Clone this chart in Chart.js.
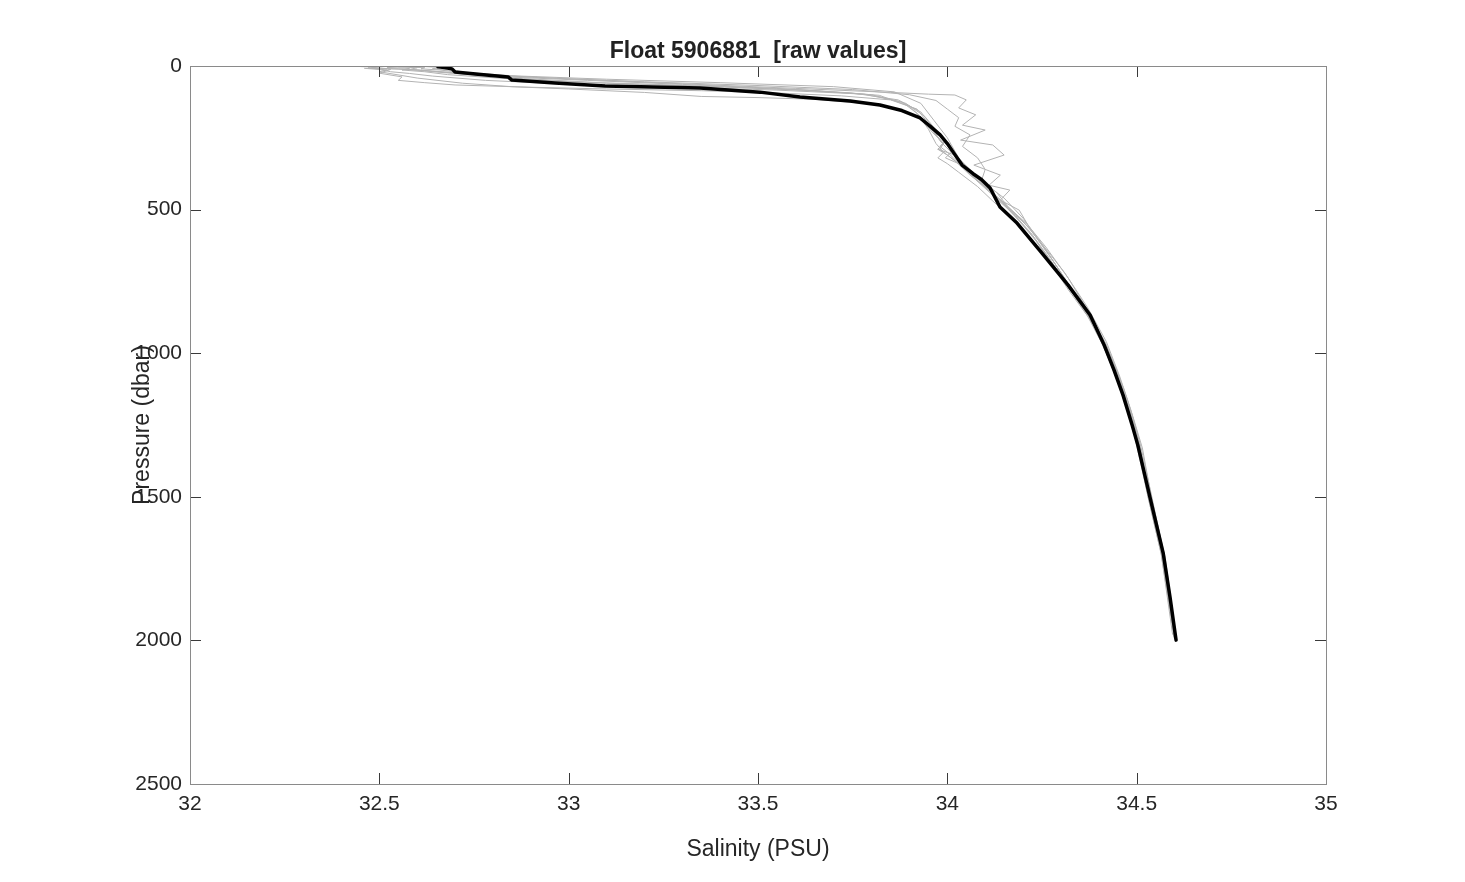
<!DOCTYPE html>
<html>
<head>
<meta charset="utf-8">
<script src="https://cdn.jsdelivr.net/npm/chart.js@4.4.1/dist/chart.umd.min.js"></script>
<style>
  html, body { margin: 0; padding: 0; background: #ffffff; }
  canvas { display: block; }
</style>
</head>
<body>
<canvas id="c" width="1465" height="882"></canvas>
<script>
// ---- Data (salinity in PSU, pressure in dbar) ----
const chartTitle = 'Float 5906881  [raw values]';
const xLabel = 'Salinity (PSU)';
const yLabel = 'Pressure (dbar)';
const xTicks = [32, 32.5, 33, 33.5, 34, 34.5, 35];
const yTicks = [0, 500, 1000, 1500, 2000, 2500];

// Highlighted profile (thick black)
const salBlack  = [32.655,32.672,32.692,32.700,32.761,32.840,32.850,32.964,33.096,33.347,33.505,33.611,33.743,33.822,33.880,33.928,33.955,33.981,34.000,34.015,34.039,34.068,34.090,34.113,34.139,34.184,34.245,34.319,34.377,34.414,34.440,34.464,34.488,34.503,34.535,34.570,34.588,34.604];
const presBlack = [3,5,10,21,29,38,49,59,70,77,91,108,122,136,155,181,210,240,270,299,345,375,395,425,491,547,644,763,867,971,1058,1146,1250,1320,1501,1696,1849,1999];

// Other profiles (thin grey)
const salG1  = [32.45,32.49,32.47,32.55,32.60,32.66,32.80,33.05,33.30,33.55,33.75,33.87,33.93,33.96,33.98,34.01,33.995,34.03,34.05,34.09,34.14,34.19,34.235,34.29,34.345,34.395,34.435,34.465,34.49,34.515,34.54,34.575,34.605];
const presG1 = [2,4,8,10,14,22,36,50,64,78,94,118,160,210,260,300,320,340,360,410,470,540,610,710,810,910,1020,1120,1220,1330,1510,1710,1995];

const salG2  = [32.52,32.58,32.56,32.62,32.68,32.86,33.10,33.40,33.65,33.82,33.90,33.94,33.97,33.99,33.975,34.00,34.03,34.07,34.12,34.17,34.22,34.27,34.325,34.38,34.42,34.455,34.48,34.505,34.535,34.57,34.60];
const presG2 = [5,8,14,20,30,46,60,72,86,102,140,190,240,270,290,310,340,390,450,510,580,670,780,880,980,1090,1200,1310,1500,1700,1990];

const salG3  = [32.48,32.52,32.60,32.75,33.00,33.30,33.60,33.85,33.95,34.02,34.05,34.03,34.075,34.04,34.10,34.035,34.12,34.15,34.07,34.14,34.11,34.165,34.14,34.19,34.22,34.27,34.33,34.385,34.425,34.46,34.495,34.53,34.565,34.60];
const presG3 = [5,9,14,28,45,62,78,92,98,101,118,146,170,206,223,258,275,310,345,380,415,432,467,502,570,660,780,880,1000,1130,1290,1500,1700,1995];

const salG4  = [32.48,32.53,32.50,32.56,32.55,32.62,32.70,32.90,33.10,33.35,33.55,33.72,33.85,33.92,33.95,33.97,33.99,33.975,34.02,34.06,34.10,34.15,34.20,34.25,34.31,34.37,34.415,34.45,34.48,34.505,34.535,34.568,34.60];
const presG4 = [4,12,25,38,50,58,66,74,80,86,94,104,118,150,200,240,270,290,310,360,410,460,530,620,740,860,970,1080,1190,1300,1500,1700,1995];

const salG5  = [32.47,32.52,32.50,32.60,32.72,32.85,33.00,33.20,33.35,33.50,33.65,33.80,33.88,33.93,33.96,33.99,33.98,34.02,34.06,34.11,34.16,34.22,34.28,34.34,34.39,34.43,34.46,34.49,34.52,34.555,34.59,34.605];
const presG5 = [6,14,20,42,60,72,80,92,106,110,116,132,153,180,230,270,290,330,380,430,490,570,680,800,910,1020,1130,1260,1420,1620,1860,2000];

const salG6  = [32.55,32.60,32.58,32.64,32.72,32.92,33.20,33.50,33.75,33.90,33.97,34.00,34.03,34.02,34.06,34.04,34.08,34.10,34.09,34.13,34.16,34.20,34.25,34.31,34.37,34.42,34.455,34.485,34.51,34.54,34.575,34.60];
const presG6 = [3,6,12,18,27,40,55,68,82,100,120,150,180,210,240,280,320,360,400,440,490,540,620,720,840,960,1080,1200,1320,1500,1720,1990];

const salG7  = [32.62,32.66,32.64,32.70,32.74,32.88,33.08,33.35,33.62,33.80,33.89,33.94,33.975,33.995,33.98,34.00,34.04,34.08,34.13,34.18,34.23,34.28,34.335,34.385,34.42,34.45,34.475,34.50,34.53,34.565,34.595];
const presG7 = [2,5,10,16,28,44,58,70,84,100,130,175,230,260,280,300,350,400,455,520,600,700,800,900,1000,1100,1200,1300,1500,1700,1980];

const salG8  = [32.46,32.50,32.53,32.58,32.64,32.78,32.98,33.25,33.55,33.78,33.88,33.92,33.95,33.97,33.99,33.975,34.00,34.03,34.08,34.12,34.17,34.22,34.27,34.32,34.37,34.41,34.45,34.48,34.50,34.53,34.565,34.60];
const presG8 = [8,12,20,26,35,50,62,72,84,98,125,165,220,270,300,320,340,370,420,470,530,600,680,780,870,970,1090,1200,1300,1480,1690,1990];

const salG9  = [32.58,32.62,32.61,32.66,32.70,32.85,33.10,33.40,33.70,33.86,33.93,33.965,34.00,34.03,34.07,34.11,34.16,34.21,34.26,34.32,34.375,34.42,34.45,34.475,34.50,34.53,34.565,34.60];
const presG9 = [4,6,10,14,20,34,46,58,72,90,130,190,250,320,380,430,490,550,630,740,860,970,1070,1160,1270,1480,1680,1990];

const greyProfiles = [
  [salG1, presG1], [salG2, presG2], [salG3, presG3], [salG4, presG4], [salG5, presG5],
  [salG6, presG6], [salG7, presG7], [salG8, presG8], [salG9, presG9]
];

// ---- Build datasets ----
function toPoints(s, p) { return s.map((v, i) => ({ x: v, y: p[i] })); }

const datasets = [{
  data: toPoints(salBlack, presBlack),
  borderColor: '#000000',
  borderWidth: 3.5,
  pointRadius: 0,
  showLine: true,
  tension: 0,
  fill: false,
  order: 0,
  borderJoinStyle: 'round',
  borderCapStyle: 'round'
}];
greyProfiles.forEach(([s, p]) => datasets.push({
  data: toPoints(s, p),
  borderColor: '#b3b3b3',
  borderWidth: 1,
  pointRadius: 0,
  showLine: true,
  tension: 0,
  fill: false,
  order: 1
}));

// ---- Box and inward ticks (MATLAB style) ----
const boxPlugin = {
  id: 'boxTicks',
  afterDatasetsDraw(chart) {
    const { ctx, chartArea: a, scales: { x, y } } = chart;
    const tl = 11;
    ctx.save();
    ctx.lineWidth = 1;
    ctx.strokeStyle = '#3a3a3a';
    ctx.beginPath();
    xTicks.forEach(v => {
      const px = Math.round(x.getPixelForValue(v)) + 0.5;
      ctx.moveTo(px, a.bottom); ctx.lineTo(px, a.bottom - tl);
      ctx.moveTo(px, a.top); ctx.lineTo(px, a.top + tl);
    });
    yTicks.forEach(v => {
      const py = Math.round(y.getPixelForValue(v)) + 0.5;
      ctx.moveTo(a.left, py); ctx.lineTo(a.left + tl, py);
      ctx.moveTo(a.right, py); ctx.lineTo(a.right - tl, py);
    });
    ctx.stroke();
    ctx.strokeStyle = '#8a8a8a';
    ctx.strokeRect(Math.round(a.left) + 0.5, Math.round(a.top) + 0.5,
                   Math.round(a.right - a.left), Math.round(a.bottom - a.top));
    ctx.restore();
  }
};

const tickFont = { family: 'Liberation Sans, Arial, sans-serif', size: 21 };
const labelFont = { family: 'Liberation Sans, Arial, sans-serif', size: 23 };
const plainLabel = v => String(v);

new Chart(document.getElementById('c'), {
  type: 'scatter',
  data: { datasets },
  options: {
    responsive: false,
    devicePixelRatio: 1,
    animation: false,
    layout: { padding: { left: 0, right: 139, top: 0, bottom: 0 } },
    plugins: {
      legend: { display: false },
      tooltip: { enabled: false },
      title: {
        display: true,
        text: chartTitle,
        fullSize: false,
        color: '#222222',
        font: { family: 'Liberation Sans, Arial, sans-serif', size: 23, weight: 'bold' },
        padding: { top: 38.2, bottom: 0.2 }
      }
    },
    scales: {
      x: {
        type: 'linear',
        min: 32, max: 35,
        grid: { display: false, drawTicks: false },
        border: { display: false },
        afterBuildTicks(scale) { scale.ticks = xTicks.map(v => ({ value: v })); },
        ticks: { color: '#262626', font: tickFont, padding: 8, maxRotation: 0, autoSkip: false, callback: plainLabel },
        title: { display: true, text: xLabel, color: '#262626', font: labelFont, padding: { top: 0, bottom: 18.2 } },
        afterFit(scale) { scale.height = 98; }
      },
      y: {
        type: 'linear',
        reverse: true,
        min: 0, max: 2500,
        grid: { display: false, drawTicks: false },
        border: { display: false },
        afterBuildTicks(scale) { scale.ticks = yTicks.map(v => ({ value: v })); },
        ticks: { color: '#262626', font: tickFont, padding: 8, autoSkip: false, callback: plainLabel },
        title: { display: true, text: yLabel, color: '#262626', font: labelFont, padding: { top: 129.2, bottom: 0 } },
        afterFit(scale) { scale.width = 190; }
      }
    }
  },
  plugins: [boxPlugin]
});
</script>
</body>
</html>
